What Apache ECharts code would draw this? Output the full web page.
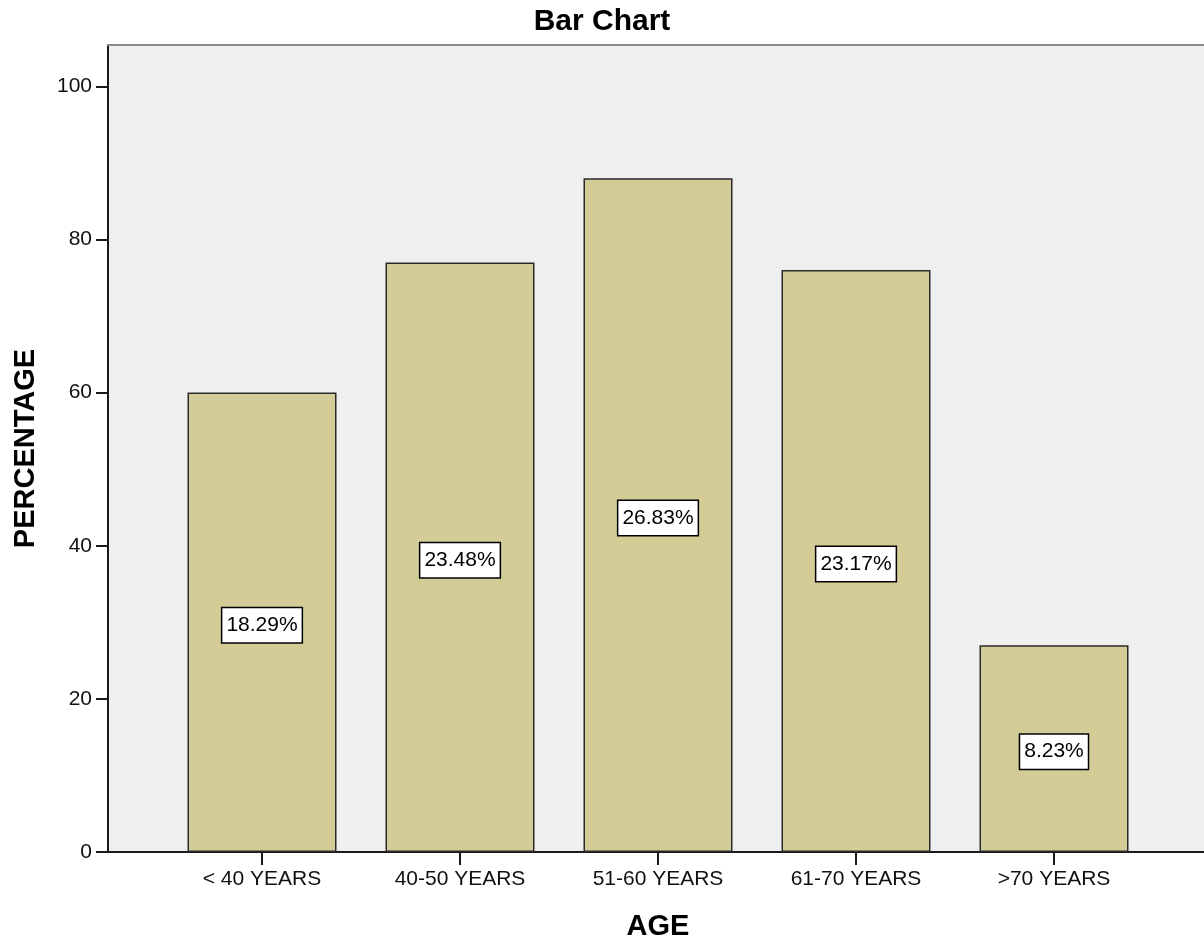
<!DOCTYPE html>
<html>
<head>
<meta charset="utf-8">
<script src="https://cdn.jsdelivr.net/npm/echarts@6/dist/echarts.min.js"></script>
<style>
  html, body { margin: 0; padding: 0; background: #ffffff; }
  #chart { width: 1204px; height: 942px; }
</style>
</head>
<body>
<div id="chart"></div>
<script>
// Age groups and patient counts; labels show each group's share of the total
const categories = ['< 40 YEARS', '40-50 YEARS', '51-60 YEARS', '61-70 YEARS', '>70 YEARS'];
const counts = [60, 77, 88, 76, 27];
const percentLabels = ['18.29%', '23.48%', '26.83%', '23.17%', '8.23%'];
const yTicks = [0, 20, 40, 60, 80, 100];

const Y_MAX = 105.4;
const FONT = '"Liberation Sans", Arial, sans-serif';

const chart = echarts.init(document.getElementById('chart'), null, { renderer: 'canvas' });

chart.setOption({
  backgroundColor: '#ffffff',
  animation: false,
  title: {
    text: 'Bar Chart',
    left: 'center',
    top: 2,
    textStyle: { fontFamily: FONT, fontSize: 30, fontWeight: 'bold', color: '#000' }
  },
  grid: [
    // plot frame with the value axis
    { left: 108, right: -4, top: 45, bottom: 90, show: true, backgroundColor: '#efefef', borderWidth: 0,
      containLabel: false, outerBoundsMode: 'none' },
    // inner band that holds the bars
    { left: 163, right: 51, top: 45, bottom: 90, containLabel: false, outerBoundsMode: 'none' }
  ],
  xAxis: [
    {
      gridIndex: 0, type: 'value', min: 0, max: 1,
      axisLine: { show: true, lineStyle: { color: '#1a1a1a', width: 2 } },
      axisTick: { show: false }, axisLabel: { show: false }, splitLine: { show: false }
    },
    {
      gridIndex: 0, type: 'value', min: 0, max: 1, position: 'top',
      axisLine: { show: true, lineStyle: { color: '#8a8a8a', width: 2 } },
      axisTick: { show: false }, axisLabel: { show: false }, splitLine: { show: false }
    },
    {
      gridIndex: 1, type: 'category', data: categories,
      axisLine: { show: false },
      axisTick: { show: true, alignWithLabel: true, length: 13, lineStyle: { color: '#1a1a1a', width: 2 } },
      axisLabel: { color: '#111', fontFamily: FONT, fontSize: 21, margin: 17 },
      name: 'AGE', nameLocation: 'middle', nameGap: 60,
      nameTextStyle: { fontFamily: FONT, fontSize: 29, fontWeight: 'bold', color: '#000' }
    }
  ],
  yAxis: [
    {
      gridIndex: 0, type: 'value', min: 0, max: Y_MAX,
      axisLine: { show: true, lineStyle: { color: '#1a1a1a', width: 2 } },
      axisTick: { show: true, length: 12, lineStyle: { color: '#1a1a1a', width: 2 },
        customValues: yTicks },
      axisLabel: { color: '#111', fontFamily: FONT, fontSize: 21, margin: 16,
        customValues: yTicks },
      splitLine: { show: false },
      name: 'PERCENTAGE', nameLocation: 'middle', nameGap: 68, nameRotate: 90,
      nameTextStyle: { fontFamily: FONT, fontSize: 29, fontWeight: 'bold', color: '#000' }
    },
    {
      gridIndex: 1, type: 'value', min: 0, max: Y_MAX, show: false
    }
  ],
  series: [{
    type: 'bar',
    xAxisIndex: 2,
    yAxisIndex: 1,
    data: counts,
    barWidth: 149,
    itemStyle: { color: '#d3cc97', borderColor: '#2a2a2a', borderWidth: 1.5 },
    label: {
      show: true,
      position: 'inside',
      offset: [0, 3],
      formatter: p => percentLabels[p.dataIndex],
      color: '#000',
      fontFamily: FONT,
      fontSize: 21,
      backgroundColor: '#ffffff',
      borderColor: '#000',
      borderWidth: 1.5,
      padding: [8, 4, 5, 4]
    }
  }]
});
</script>
</body>
</html>
